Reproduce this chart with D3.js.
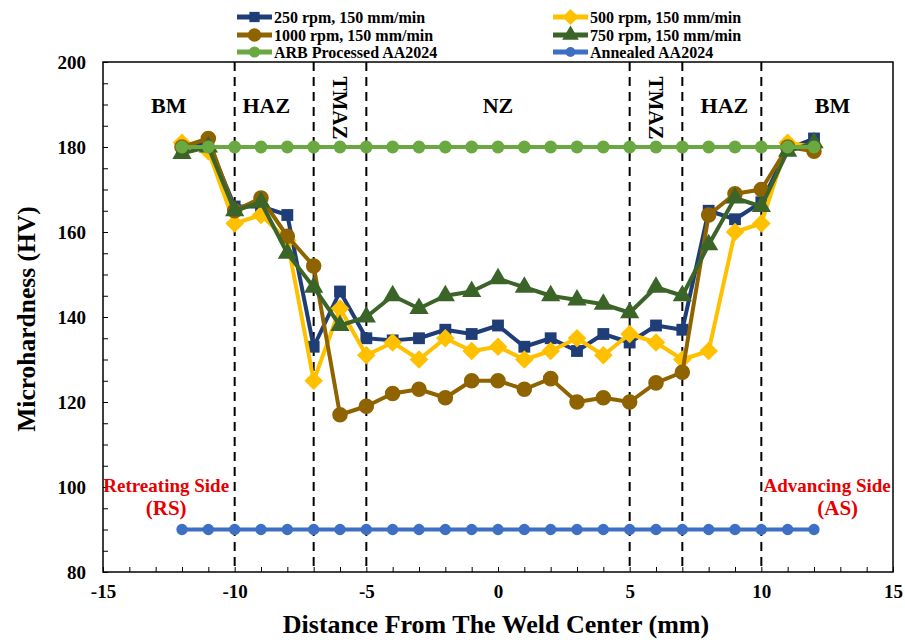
<!DOCTYPE html>
<html>
<head>
<meta charset="utf-8">
<script src="https://cdn.jsdelivr.net/npm/d3@7"></script>
<style>
body{margin:0;background:#fff;}
text{font-family:"Liberation Serif","Times New Roman",serif;font-weight:bold;}
</style>
</head>
<body>
<svg id="chart" width="905" height="640"></svg>
<script>
// distance from weld center (mm)
var distance = [-12,-11,-10,-9,-8,-7,-6,-5,-4,-3,-2,-1,0,1,2,3,4,5,6,7,8,9,10,11,12];

// microhardness (HV)
var rpm250  = [180,181,166,166,164,133,146,135,134.5,135,137,136,138,133,135,132,136,134,138,137,165,163,167,179.5,182];
var rpm500  = [181,179,162,164,158,125,142,131,134,130,135,132,133,130,132,135,131,136,134,130,132,160,162,181,180];
var rpm1000 = [180,182,165,168,159,152,117,119,122,123,121,125,125,123,125.5,120,121,120,124.5,127,164,169,170,180,179];
var rpm750  = [178.5,180,165,167,155,147,138,140,145,142,145,146,149,147,145,144,143,141,147,145,157,168,166,179,181];
var arb      = distance.map(function(){return 180;});
var annealed = distance.map(function(){return 90;});

var zoneLines = [-10,-7,-5,5,7,10];
var zoneLabels = [
	{t:"BM",x:-12.5,rot:false},{t:"HAZ",x:-8.8,rot:false},{t:"TMAZ",x:-6,rot:true},
	{t:"NZ",x:0,rot:false},{t:"TMAZ",x:6,rot:true},{t:"HAZ",x:8.6,rot:false},{t:"BM",x:12.7,rot:false}
];

var xTicks = [-15,-10,-5,0,5,10,15];
var yTicks = [80,100,120,140,160,180,200];

var diamond = {draw:function(ctx,size){var r=Math.sqrt(size)/1.4;ctx.moveTo(0,-r);ctx.lineTo(r,0);ctx.lineTo(0,r);ctx.lineTo(-r,0);ctx.closePath();}};

var series = [
	{name:"250 rpm, 150 mm/min", values:rpm250, color:"#1f3e78", shape:d3.symbolSquare, size:140, width:4},
	{name:"500 rpm, 150 mm/min", values:rpm500, color:"#ffc000", shape:diamond, size:170, width:4},
	{name:"1000 rpm, 150 mm/min", values:rpm1000, color:"#8f6300", shape:d3.symbolCircle, size:190, width:4},
	{name:"750 rpm, 150 mm/min", values:rpm750, color:"#3b6528", shape:d3.symbolTriangle, size:160, width:4},
	{name:"ARB Processed AA2024", values:arb, color:"#6aa842", shape:d3.symbolCircle, size:130, width:4},
	{name:"Annealed AA2024", values:annealed, color:"#3d6fc4", shape:d3.symbolCircle, size:100, width:4}
];

var margin = {top:62, right:12, bottom:68, left:103};
var W = 905, H = 640;
var w = W - margin.left - margin.right, h = H - margin.top - margin.bottom;

var svg = d3.select("#chart");
var g = svg.append("g").attr("transform","translate("+margin.left+","+margin.top+")");

var x = d3.scaleLinear().domain([-15,15]).range([0,w]);
var y = d3.scaleLinear().domain([80,200]).range([h,0]);

// frame
g.append("rect").attr("width",w).attr("height",h)
	.attr("fill","none").attr("stroke","#000").attr("stroke-width",1.5);

// minor ticks (inside)
g.append("g").attr("transform","translate(0,"+h+")")
	.call(d3.axisBottom(x).tickValues(d3.range(-15,16,1)).tickSize(-5).tickFormat(""))
	.call(function(s){s.select(".domain").remove();});
g.append("g")
	.call(d3.axisLeft(y).tickValues(d3.range(80,201,5)).tickSize(-5).tickFormat(""))
	.call(function(s){s.select(".domain").remove();});

// labels
var xa = g.append("g").attr("transform","translate(0,"+h+")")
	.call(d3.axisBottom(x).tickValues(xTicks).tickSize(0).tickPadding(13).tickFormat(function(d){return String(d);}));
xa.select(".domain").remove();
xa.selectAll("text").attr("font-size",19).attr("font-family","Liberation Serif").attr("font-weight","bold").attr("fill","#000");

var ya = g.append("g")
	.call(d3.axisLeft(y).tickValues(yTicks).tickSize(0).tickPadding(17));
ya.select(".domain").remove();
ya.selectAll("text").attr("font-size",19).attr("font-family","Liberation Serif").attr("font-weight","bold").attr("fill","#000");

// zone dashed lines
g.selectAll(".zone").data(zoneLines).enter().append("line")
	.attr("x1",function(d){return x(d);}).attr("x2",function(d){return x(d);})
	.attr("y1",0).attr("y2",h)
	.attr("stroke","#000").attr("stroke-width",2).attr("stroke-dasharray","9,6");

// zone labels
zoneLabels.forEach(function(z){
	if(z.rot){
		g.append("text").attr("transform","translate("+(x(z.x)-7)+",46) rotate(90)")
			.attr("text-anchor","middle").attr("font-size",21).text(z.t);
	}else{
		g.append("text").attr("x",x(z.x)).attr("y",51)
			.attr("text-anchor","middle").attr("font-size",22).text(z.t);
	}
});

// series
var line = d3.line().x(function(d){return x(d[0]);}).y(function(d){return y(d[1]);});
series.forEach(function(s){
	var pts = distance.map(function(d,i){return [d,s.values[i]];});
	g.append("path").datum(pts).attr("d",line)
		.attr("fill","none").attr("stroke",s.color).attr("stroke-width",s.width).attr("stroke-linejoin","round");
	g.selectAll(null).data(pts).enter().append("path")
		.attr("d",d3.symbol().type(s.shape).size(s.size))
		.attr("transform",function(d){return "translate("+x(d[0])+","+y(d[1])+")";})
		.attr("fill",s.color);
});

// side annotations
var red = "#e60000";
g.append("text").attr("x",x(-12.6)).attr("y",y(98.8)).attr("text-anchor","middle").attr("font-size",19).attr("fill",red).text("Retreating Side");
g.append("text").attr("x",x(-12.6)).attr("y",y(93.4)).attr("text-anchor","middle").attr("font-size",21).attr("fill",red).text("(RS)");
g.append("text").attr("x",x(12.5)).attr("y",y(98.8)).attr("text-anchor","middle").attr("font-size",19).attr("fill",red).text("Advancing Side");
g.append("text").attr("x",x(12.9)).attr("y",y(93.4)).attr("text-anchor","middle").attr("font-size",21).attr("fill",red).text("(AS)");

// axis titles
svg.append("text").attr("x",margin.left+w/2-2).attr("y",633).attr("text-anchor","middle").attr("font-size",26).text("Distance From The Weld Center (mm)");
svg.append("text").attr("transform","translate(35,"+(margin.top+h/2+2)+") rotate(-90)").attr("text-anchor","middle").attr("font-size",25.5).text("Microhardness (HV)");

// legend
var legendPos = [[237,17],[553,17],[237,35],[553,35],[237,52],[553,52]];
var legendOrder = [0,1,2,3,4,5];
legendOrder.forEach(function(k,i){
	var s = series[k], p = legendPos[i];
	var lg = svg.append("g").attr("transform","translate("+p[0]+","+p[1]+")");
	lg.append("line").attr("x1",0).attr("x2",35).attr("stroke",s.color).attr("stroke-width",5);
	lg.append("path").attr("d",d3.symbol().type(s.shape).size(s.size*0.75)).attr("transform","translate(17.5,0)").attr("fill",s.color);
	lg.append("text").attr("x",37).attr("y",5.5).attr("font-size",16).text(s.name);
});
</script>
</body>
</html>
